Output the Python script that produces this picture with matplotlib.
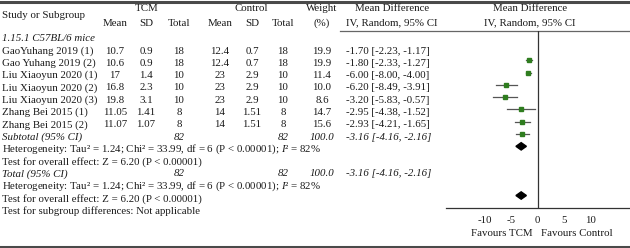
import matplotlib
import matplotlib.pyplot as plt
from matplotlib.patches import Polygon

matplotlib.use("Agg")

plt.rcParams["font.family"] = ["Liberation Serif", "DejaVu Serif"]
plt.rcParams["mathtext.fontset"] = "custom"
plt.rcParams["mathtext.rm"] = "Liberation Serif"
plt.rcParams["mathtext.it"] = "Liberation Serif:italic"

# data
STUDIES  = ["GaoYuhang 2019 (1)", "Gao Yuhang 2019 (2)", "Liu Xiaoyun 2020 (1)",
            "Liu Xiaoyun 2020 (2)", "Liu Xiaoyun 2020 (3)", "Zhang Bei 2015 (1)",
            "Zhang Bei 2015 (2)"]
TCM_MEAN = [10.7, 10.6, 17, 16.8, 19.8, 11.05, 11.07]
TCM_SD   = [0.9, 0.9, 1.4, 2.3, 3.1, 1.41, 1.07]
TCM_N    = [18, 18, 10, 10, 10, 8, 8]
CTL_MEAN = [12.4, 12.4, 23, 23, 23, 14, 14]
CTL_SD   = [0.7, 0.7, 2.9, 2.9, 2.9, 1.51, 1.51]
CTL_N    = [18, 18, 10, 10, 10, 8, 8]
WEIGHT   = [19.9, 19.9, 11.4, 10.0, 8.6, 14.7, 15.6]
MD       = [-1.70, -1.80, -6.00, -6.20, -3.20, -2.95, -2.93]
MD_LO    = [-2.23, -2.33, -8.00, -8.49, -5.83, -4.38, -4.21]
MD_HI    = [-1.17, -1.27, -4.00, -3.91, -0.57, -1.52, -1.65]
POOLED   = (-3.16, -4.16, -2.16)
TOTAL_W  = 100.0
HET_TXT  = "Heterogeneity: Tau² = 1.24; Chi² = 33.99, df = 6 (P < 0.00001); $\\mathit{I}$² = 82%"
Z_TXT    = "Test for overall effect: Z = 6.20 (P < 0.00001)"
XTICKS   = [-10, -5, 0, 5, 10]

# layout (pixels)
W, H = 630, 248
ROW0, ROW_H = 51, 12.3
SHIFT = 0.75   # forest marks sit lower than their text rows in the reference
FS = 7.8
GREEN = "#2f7d1f"
RULE = "#4a4a4a"
INK = "#1a1a1a"

COLS = {"mean1": 115, "sd1": 146, "n1": 179, "mean2": 220, "sd2": 252,
        "n2": 283, "w": 322, "md": 346}


def ry(k):
    return ROW0 + ROW_H * k


def main():
    fig = plt.figure(figsize=(W / 100, H / 100), dpi=100)
    ax = fig.add_axes([0, 0, 1, 1])
    ax.set_xlim(0, W)
    ax.set_ylim(H, 0)
    ax.axis("off")

    def txt(x, y, s, ha="center", style="normal"):
        ax.text(x, y, s, ha=ha, va="center", fontsize=FS, style=style, color=INK)

    # rules
    ax.plot([0, W], [1.5, 1.5], color=RULE, lw=2.2)
    ax.plot([0, W], [246.5, 246.5], color=RULE, lw=2.2)
    ax.plot([340, W], [31, 31], color="#666666", lw=0.9)

    # header
    txt(2, 15, "Study or Subgroup", ha="left")
    txt(147, 8.5, "TCM")
    txt(251, 8.5, "Control")
    for key, lab in [("mean1", "Mean"), ("sd1", "SD"), ("n1", "Total"),
                     ("mean2", "Mean"), ("sd2", "SD"), ("n2", "Total")]:
        txt(COLS[key], 23, lab)
    txt(322, 8.5, "Weight")
    txt(322, 23, "(%)")
    txt(392, 8.5, "Mean Difference")
    txt(392, 23, "IV, Random, 95% CI")
    txt(530, 8.5, "Mean Difference")
    txt(530, 23, "IV, Random, 95% CI")

    txt(2, ry(-1), "1.15.1 C57BL/6 mice", ha="left", style="italic")

    for i, name in enumerate(STUDIES):
        y = ry(i)
        txt(2, y, name, ha="left")
        txt(COLS["mean1"], y, str(TCM_MEAN[i]))
        txt(COLS["sd1"], y, str(TCM_SD[i]))
        txt(COLS["n1"], y, str(TCM_N[i]))
        txt(COLS["mean2"], y, str(CTL_MEAN[i]))
        txt(COLS["sd2"], y, str(CTL_SD[i]))
        txt(COLS["n2"], y, str(CTL_N[i]))
        txt(COLS["w"], y, f"{WEIGHT[i]:.1f}")
        txt(COLS["md"], y, f"{MD[i]:.2f} [{MD_LO[i]:.2f}, {MD_HI[i]:.2f}]", ha="left")

    pooled_s = f"{POOLED[0]:.2f} [{POOLED[1]:.2f}, {POOLED[2]:.2f}]"
    n = len(STUDIES)
    for k, label in [(n, "Subtotal (95% CI)"), (n + 3, "Total (95% CI)")]:
        y = ry(k)
        txt(2, y, label, ha="left", style="italic")
        txt(COLS["n1"], y, str(sum(TCM_N)), style="italic")
        txt(COLS["n2"], y, str(sum(CTL_N)), style="italic")
        txt(COLS["w"], y, f"{TOTAL_W:.1f}", style="italic")
        txt(COLS["md"], y, pooled_s, ha="left", style="italic")
        txt(2, ry(k + 1), HET_TXT, ha="left")
        txt(2, ry(k + 2), Z_TXT, ha="left")
    txt(2, ry(n + 6), "Test for subgroup differences: Not applicable", ha="left")

    # forest panel
    x0, x1, ytop, ybot = 446, 630, 31, 208
    fax = fig.add_axes([x0 / W, 1 - ybot / H, (x1 - x0) / W, (ybot - ytop) / H])
    fax.set_xlim(-17.5, 17.6)
    fax.set_ylim((ybot - ROW0) / ROW_H, (ytop - ROW0) / ROW_H)
    fax.patch.set_alpha(0)
    for s in ["top", "right", "left"]:
        fax.spines[s].set_visible(False)
    fax.spines["bottom"].set_color("#333333")
    fax.spines["bottom"].set_linewidth(0.9)
    fax.set_yticks([])
    fax.set_xticks(XTICKS)
    fax.set_xticklabels([str(t) for t in XTICKS], fontsize=FS, color=INK)
    fax.tick_params(axis="x", length=0, pad=6)
    fax.axvline(0, color="#333333", lw=0.9)

    for i in range(n):
        y = i + SHIFT
        fax.plot([MD_LO[i], MD_HI[i]], [y, y], color="#555555", lw=0.9)
        fax.plot(MD[i], y, marker="s", color=GREEN, ms=1.5 + WEIGHT[i] * 0.09, mec=GREEN)

    est, lo, hi = POOLED
    for k in [n + SHIFT, n + 4 + SHIFT]:
        fax.add_patch(Polygon([[lo, k], [est, k - 0.3], [hi, k], [est, k + 0.3]],
                              closed=True, color="black"))

    ax.text(502, 233, "Favours TCM", ha="center", va="center", fontsize=FS, color=INK)
    ax.text(577, 233, "Favours Control", ha="center", va="center", fontsize=FS, color=INK)

    fig.savefig("out.png", dpi=100)
    plt.close(fig)


if __name__ == "__main__":
    main()
